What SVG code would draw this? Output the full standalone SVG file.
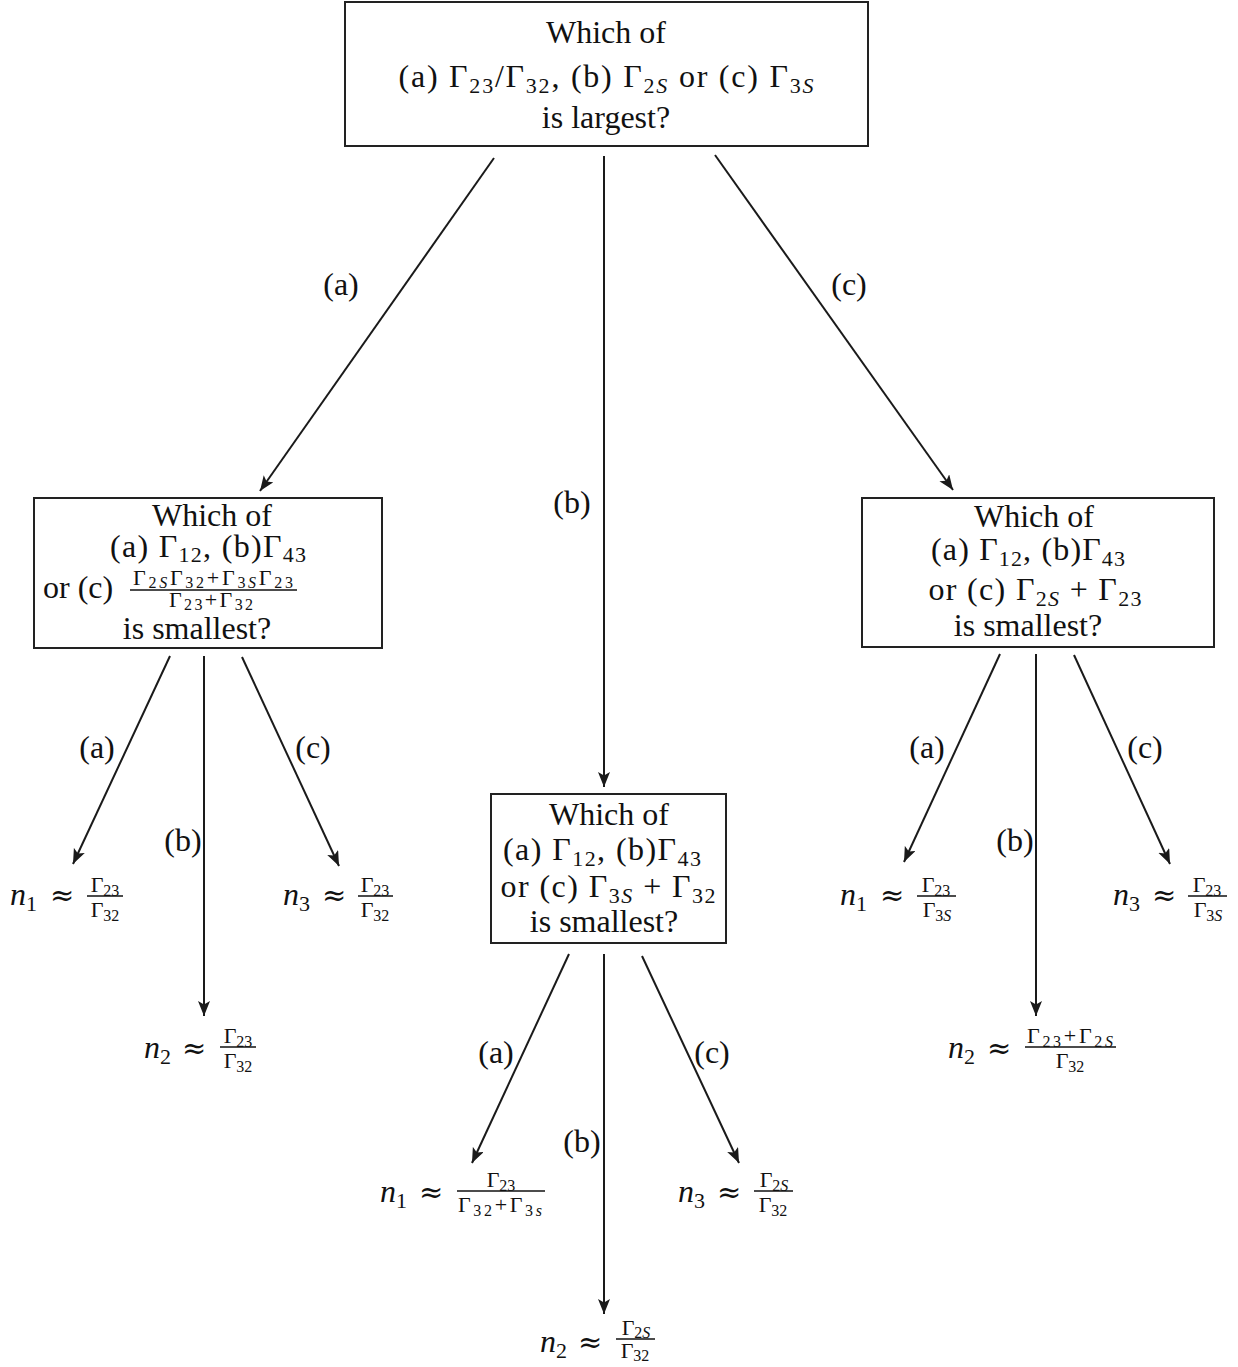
<svg xmlns="http://www.w3.org/2000/svg" width="1238" height="1367" viewBox="0 0 1238 1367">
<defs>
<marker id="ah" markerUnits="userSpaceOnUse" markerWidth="17" markerHeight="13" refX="15" refY="6" orient="auto">
<path d="M0,0 L15,6 L0,12 L3.5,6 z" fill="#1a1a1a"/>
</marker>
<style>
text{font-family:"Liberation Serif","DejaVu Serif",serif;fill:#111}
.m{font-size:32px}
.c{text-anchor:middle}
.s{font-size:22px}
.f{font-size:22px;text-anchor:middle}
.fs{font-size:16px}
.i{font-style:italic}
.ap{font-family:"DejaVu Serif",serif;font-size:29px}
.box{fill:#fff;stroke:#222;stroke-width:2}
.bar{stroke:#111;stroke-width:1.6}
.conn line{stroke:#1a1a1a;stroke-width:2;marker-end:url(#ah)}
</style>
</defs>
<rect width="1238" height="1367" fill="#fff"/>

<g id="connectors" class="conn">
<line x1="494" y1="158" x2="260" y2="491"/>
<line x1="604" y1="156" x2="604" y2="787"/>
<line x1="715" y1="155" x2="953" y2="490"/>
<line x1="170" y1="656" x2="73" y2="864"/>
<line x1="204" y1="656" x2="204" y2="1016"/>
<line x1="242" y1="657" x2="339" y2="866"/>
<line x1="569" y1="954" x2="472" y2="1163"/>
<line x1="604" y1="954" x2="604" y2="1314"/>
<line x1="642" y1="956" x2="739" y2="1163"/>
<line x1="1000" y1="654" x2="904" y2="862"/>
<line x1="1036" y1="654" x2="1036" y2="1016"/>
<line x1="1074" y1="655" x2="1170" y2="864"/>
</g>

<g id="edge-labels">
<text class="m c" x="341" y="295">(a)</text>
<text class="m c" x="572" y="513">(b)</text>
<text class="m c" x="849" y="295">(c)</text>
<text class="m c" x="97" y="758">(a)</text>
<text class="m c" x="183" y="851">(b)</text>
<text class="m c" x="313" y="758">(c)</text>
<text class="m c" x="496" y="1063">(a)</text>
<text class="m c" x="582" y="1152">(b)</text>
<text class="m c" x="712" y="1063">(c)</text>
<text class="m c" x="927" y="758">(a)</text>
<text class="m c" x="1015" y="851">(b)</text>
<text class="m c" x="1145" y="758">(c)</text>
</g>

<g id="node-top">
<rect class="box" x="345" y="2" width="523" height="144"/>
<text class="m c" x="606" y="43">Which of</text>
<text class="m c" x="606" y="87" textLength="415" lengthAdjust="spacing">(a) Γ<tspan class="s" dy="6">23</tspan><tspan dy="-6">/Γ</tspan><tspan class="s" dy="6">32</tspan><tspan dy="-6">, (b) Γ</tspan><tspan class="s" dy="6">2<tspan class="i">S</tspan></tspan><tspan dy="-6"> or (c) Γ</tspan><tspan class="s" dy="6">3<tspan class="i">S</tspan></tspan></text>
<text class="m c" x="606" y="128">is largest?</text>
</g>

<g id="node-left">
<rect class="box" x="34" y="498" width="348" height="150"/>
<text class="m c" x="212" y="526">Which of</text>
<text class="m c" x="208" y="557" textLength="196" lengthAdjust="spacing">(a) Γ<tspan class="s" dy="5">12</tspan><tspan dy="-5">, (b)Γ</tspan><tspan class="s" dy="5">43</tspan></text>
<text class="m" x="43" y="598">or (c)</text>
<text class="f" x="213" y="585" textLength="160" lengthAdjust="spacing">Γ<tspan class="fs" dy="3">2<tspan class="i">S</tspan></tspan><tspan dy="-3">Γ</tspan><tspan class="fs" dy="3">32</tspan><tspan dy="-3">+Γ</tspan><tspan class="fs" dy="3">3<tspan class="i">S</tspan></tspan><tspan dy="-3">Γ</tspan><tspan class="fs" dy="3">23</tspan></text>
<line class="bar" x1="130" y1="590" x2="297" y2="590"/>
<text class="f" x="211" y="607" textLength="84" lengthAdjust="spacing">Γ<tspan class="fs" dy="3">23</tspan><tspan dy="-3">+Γ</tspan><tspan class="fs" dy="3">32</tspan></text>
<text class="m c" x="197" y="639">is smallest?</text>
</g>

<g id="node-middle">
<rect class="box" x="491" y="794" width="235" height="149"/>
<text class="m c" x="609" y="825">Which of</text>
<text class="m c" x="602" y="860" textLength="198" lengthAdjust="spacing">(a) Γ<tspan class="s" dy="6">12</tspan><tspan dy="-6">, (b)Γ</tspan><tspan class="s" dy="6">43</tspan></text>
<text class="m c" x="608" y="897" textLength="215" lengthAdjust="spacing">or (c) Γ<tspan class="s" dy="6">3<tspan class="i">S</tspan></tspan><tspan dy="-6"> + Γ</tspan><tspan class="s" dy="6">32</tspan></text>
<text class="m c" x="604" y="932">is smallest?</text>
</g>

<g id="node-right">
<rect class="box" x="862" y="498" width="352" height="149"/>
<text class="m c" x="1034" y="527">Which of</text>
<text class="m c" x="1028" y="560" textLength="194" lengthAdjust="spacing">(a) Γ<tspan class="s" dy="6">12</tspan><tspan dy="-6">, (b)Γ</tspan><tspan class="s" dy="6">43</tspan></text>
<text class="m c" x="1035" y="600" textLength="213" lengthAdjust="spacing">or (c) Γ<tspan class="s" dy="6">2<tspan class="i">S</tspan></tspan><tspan dy="-6"> + Γ</tspan><tspan class="s" dy="6">23</tspan></text>
<text class="m c" x="1028" y="636">is smallest?</text>
</g>

<g id="leaf-left-n1">
<text class="m" x="10" y="905"><tspan class="i">n</tspan><tspan class="s" dy="6">1</tspan></text>
<text class="ap" x="50" y="905">≈</text>
<text class="f" x="105" y="892">Γ<tspan class="fs" dy="4">23</tspan></text>
<line class="bar" x1="87" y1="896" x2="123" y2="896"/>
<text class="f" x="105" y="917">Γ<tspan class="fs" dy="4">32</tspan></text>
</g>
<g id="leaf-left-n2">
<text class="m" x="144" y="1058"><tspan class="i">n</tspan><tspan class="s" dy="6">2</tspan></text>
<text class="ap" x="182" y="1058">≈</text>
<text class="f" x="238" y="1043">Γ<tspan class="fs" dy="4">23</tspan></text>
<line class="bar" x1="220" y1="1047" x2="256" y2="1047"/>
<text class="f" x="238" y="1068">Γ<tspan class="fs" dy="4">32</tspan></text>
</g>
<g id="leaf-left-n3">
<text class="m" x="283" y="905"><tspan class="i">n</tspan><tspan class="s" dy="6">3</tspan></text>
<text class="ap" x="322" y="905">≈</text>
<text class="f" x="375" y="892">Γ<tspan class="fs" dy="4">23</tspan></text>
<line class="bar" x1="358" y1="896" x2="393" y2="896"/>
<text class="f" x="375" y="917">Γ<tspan class="fs" dy="4">32</tspan></text>
</g>

<g id="leaf-mid-n1">
<text class="m" x="380" y="1202"><tspan class="i">n</tspan><tspan class="s" dy="6">1</tspan></text>
<text class="ap" x="419" y="1202">≈</text>
<text class="f" x="501" y="1187">Γ<tspan class="fs" dy="4">23</tspan></text>
<line class="bar" x1="457" y1="1191" x2="545" y2="1191"/>
<text class="f" x="500" y="1212" textLength="84" lengthAdjust="spacing">Γ<tspan class="fs" dy="4">32</tspan><tspan dy="-4">+Γ</tspan><tspan class="fs" dy="4">3<tspan class="i">s</tspan></tspan></text>
</g>
<g id="leaf-mid-n2">
<text class="m" x="540" y="1352"><tspan class="i">n</tspan><tspan class="s" dy="6">2</tspan></text>
<text class="ap" x="578" y="1352">≈</text>
<text class="f" x="636" y="1335">Γ<tspan class="fs" dy="3">2<tspan class="i">S</tspan></tspan></text>
<line class="bar" x1="616" y1="1339" x2="655" y2="1339"/>
<text class="f" x="635" y="1358">Γ<tspan class="fs" dy="3">32</tspan></text>
</g>
<g id="leaf-mid-n3">
<text class="m" x="678" y="1202"><tspan class="i">n</tspan><tspan class="s" dy="6">3</tspan></text>
<text class="ap" x="717" y="1202">≈</text>
<text class="f" x="774" y="1187">Γ<tspan class="fs" dy="4">2<tspan class="i">S</tspan></tspan></text>
<line class="bar" x1="754" y1="1191" x2="793" y2="1191"/>
<text class="f" x="773" y="1212">Γ<tspan class="fs" dy="4">32</tspan></text>
</g>

<g id="leaf-right-n1">
<text class="m" x="840" y="905"><tspan class="i">n</tspan><tspan class="s" dy="6">1</tspan></text>
<text class="ap" x="880" y="905">≈</text>
<text class="f" x="936" y="892">Γ<tspan class="fs" dy="4">23</tspan></text>
<line class="bar" x1="917" y1="896" x2="956" y2="896"/>
<text class="f" x="937" y="917">Γ<tspan class="fs" dy="4">3<tspan class="i">S</tspan></tspan></text>
</g>
<g id="leaf-right-n2">
<text class="m" x="948" y="1058"><tspan class="i">n</tspan><tspan class="s" dy="6">2</tspan></text>
<text class="ap" x="987" y="1058">≈</text>
<text class="f" x="1070" y="1043" textLength="86" lengthAdjust="spacing">Γ<tspan class="fs" dy="4">23</tspan><tspan dy="-4">+Γ</tspan><tspan class="fs" dy="4">2<tspan class="i">S</tspan></tspan></text>
<line class="bar" x1="1025" y1="1047" x2="1116" y2="1047"/>
<text class="f" x="1070" y="1068">Γ<tspan class="fs" dy="4">32</tspan></text>
</g>
<g id="leaf-right-n3">
<text class="m" x="1113" y="905"><tspan class="i">n</tspan><tspan class="s" dy="6">3</tspan></text>
<text class="ap" x="1152" y="905">≈</text>
<text class="f" x="1207" y="892">Γ<tspan class="fs" dy="4">23</tspan></text>
<line class="bar" x1="1188" y1="896" x2="1227" y2="896"/>
<text class="f" x="1208" y="917">Γ<tspan class="fs" dy="4">3<tspan class="i">S</tspan></tspan></text>
</g>
</svg>
